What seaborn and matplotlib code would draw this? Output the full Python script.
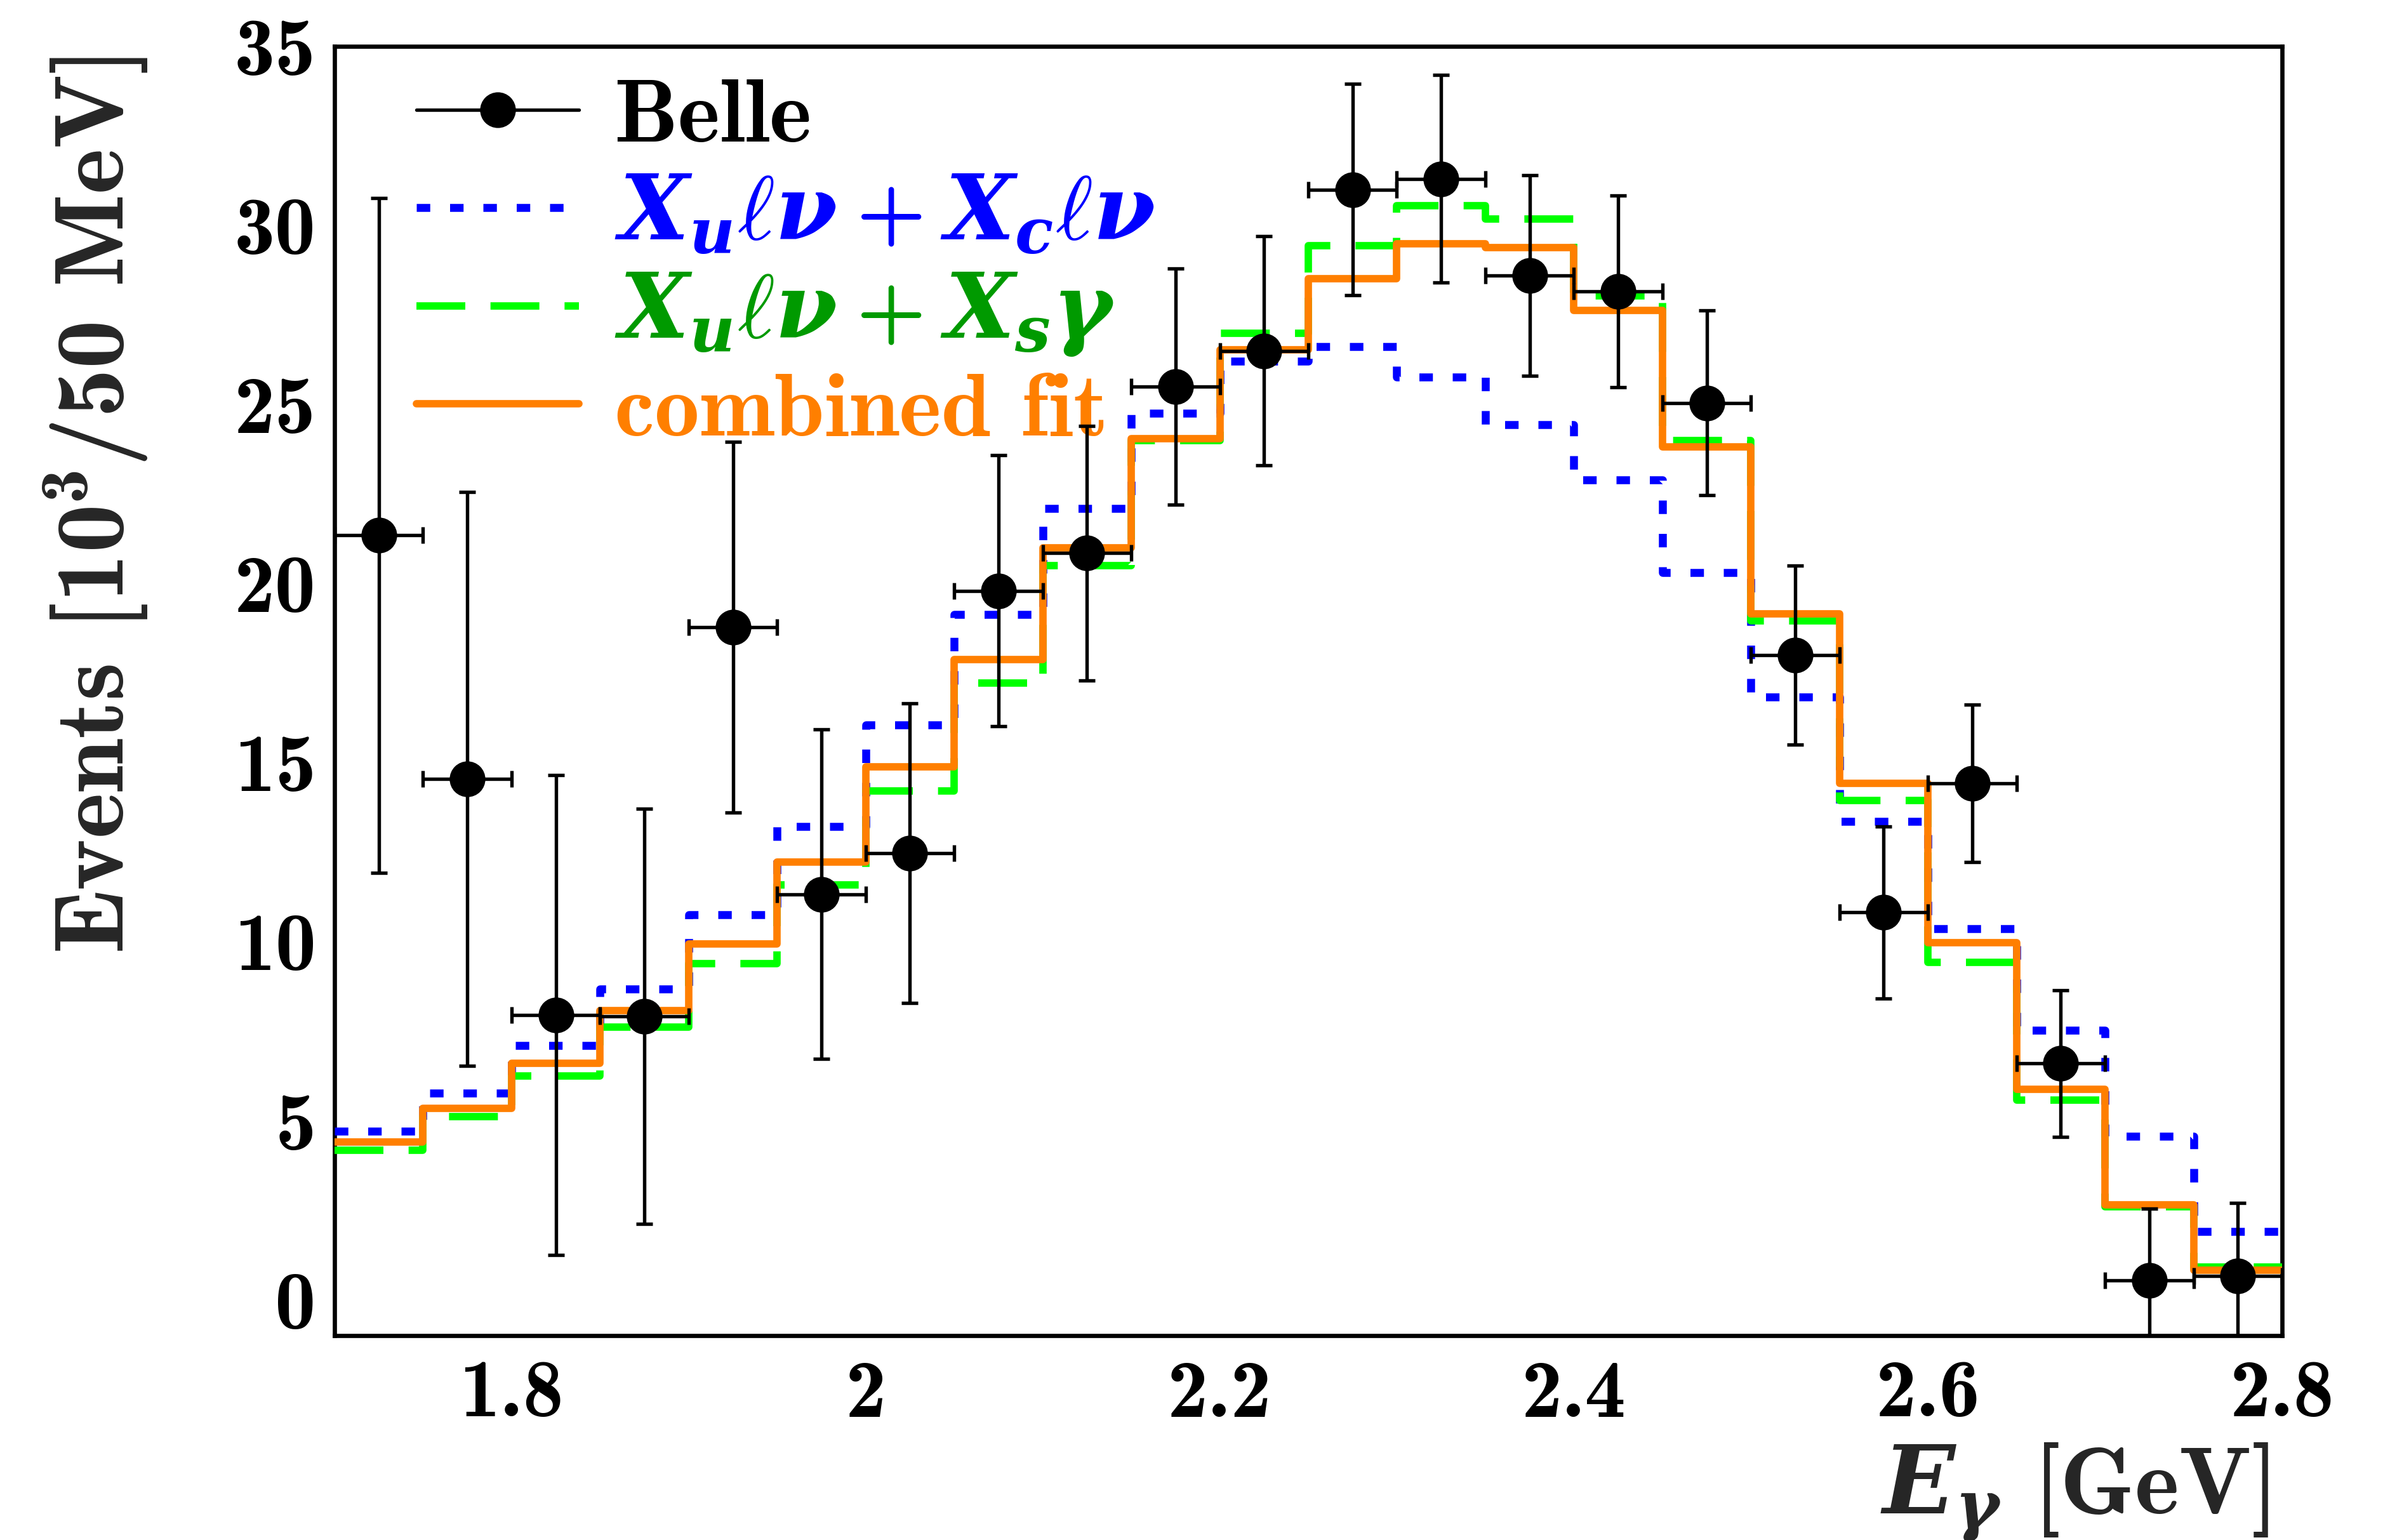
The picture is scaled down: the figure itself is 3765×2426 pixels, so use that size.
import numpy as np
import pandas as pd
import matplotlib
matplotlib.use("Agg")
import matplotlib.pyplot as plt
import seaborn as sns
from matplotlib.lines import Line2D
from matplotlib.ticker import MultipleLocator, FixedLocator, FuncFormatter

# ---------------- data ----------------
bin_edges = [round(1.70 + 0.05 * i, 3) for i in range(23)]
bin_centers = [round(1.725 + 0.05 * i, 4) for i in range(22)]

belle_y = [21.35, 14.55, 7.95, 7.92, 18.78, 11.32, 12.47, 19.80, 20.85, 25.50, 26.50,
           31.00, 31.30, 28.60, 28.16, 25.04, 18.00, 10.82, 14.42, 6.60, 0.54, 0.66]
belle_err = [9.42, 8.01, 6.70, 5.80, 5.17, 4.60, 4.18, 3.78, 3.55, 3.30, 3.20,
             2.95, 2.90, 2.80, 2.68, 2.58, 2.50, 2.40, 2.20, 2.05, 2.00, 2.05]
xu_xc = [4.70, 5.77, 7.10, 8.67, 10.75, 13.21, 16.05, 19.13, 22.09, 24.75, 26.21,
         26.62, 25.77, 24.44, 22.90, 20.31, 16.83, 13.35, 10.37, 7.52, 4.56, 1.90]
xu_xs = [4.18, 5.12, 6.25, 7.62, 9.38, 11.58, 14.20, 17.23, 20.50, 24.00, 26.98,
         29.44, 30.55, 30.18, 28.03, 23.99, 18.95, 13.95, 9.42, 5.57, 2.60, 0.92]
combined = [4.40, 5.35, 6.61, 8.07, 9.93, 12.22, 14.88, 17.88, 21.00, 24.04, 26.52,
            28.51, 29.49, 29.38, 27.62, 23.81, 19.15, 14.42, 9.97, 5.87, 2.65, 0.82]

legend_labels = ["Belle", r"$X_u\ell\nu+X_c\ell\nu$", r"$X_u\ell\nu+X_s\gamma$", "combined fit"]
x_ticks = [1.8, 2.0, 2.2, 2.4, 2.6, 2.8]
y_ticks = [0, 5, 10, 15, 20, 25, 30, 35]

df = pd.DataFrame({"E": bin_centers, "xu_xc": xu_xc, "xu_xs": xu_xs, "combined": combined})

# ---------------- style ----------------
sns.set_style("white")
plt.rcParams["font.family"] = ["cmb10", "DejaVu Serif"]
plt.rcParams["mathtext.fontset"] = "custom"
plt.rcParams["mathtext.rm"] = "cmb10"
plt.rcParams["mathtext.bf"] = "cmb10"
plt.rcParams["mathtext.it"] = "DejaVu Serif:italic:bold"
plt.rcParams["axes.unicode_minus"] = False
plt.rcParams["axes.formatter.use_mathtext"] = False

C_BLUE = "#0000ff"
C_GREEN = "#00ff00"
C_GREEN_TXT = "#009a00"
C_ORANGE = "#ff7f00"

W, H, DPI = 3765, 2426, 300
fig = plt.figure(figsize=(W / DPI, H / DPI), dpi=DPI)
ax = fig.add_axes([527 / W, (H - 2104) / H, (3595 - 527) / W, (2104 - 73) / H])

# histograms
sns.histplot(data=df, x="E", weights="xu_xc", bins=bin_edges, element="step", fill=False,
             color=C_BLUE, linewidth=3.0, linestyle=(0, (1.7, 2.5)), ax=ax, zorder=3)
sns.histplot(data=df, x="E", weights="xu_xs", bins=bin_edges, element="step", fill=False,
             color=C_GREEN, linewidth=2.8, linestyle=(0, (6.6, 3.4)), ax=ax, zorder=4)
sns.histplot(data=df, x="E", weights="combined", bins=bin_edges, element="step", fill=False,
             color=C_ORANGE, linewidth=2.8, linestyle="-", ax=ax, zorder=5)

# data points
ax.errorbar(bin_centers, belle_y, xerr=0.025, yerr=belle_err, fmt="o", color="black",
            ms=12.5, elinewidth=1.3, capsize=3.2, capthick=1.3, zorder=10)

# axes
ax.set_xlim(1.70, 2.80)
ax.set_ylim(-1, 35)
ax.xaxis.set_major_locator(FixedLocator(x_ticks))
ax.xaxis.set_minor_locator(MultipleLocator(0.05))
ax.yaxis.set_major_locator(FixedLocator(y_ticks))
ax.yaxis.set_minor_locator(MultipleLocator(1))
ax.xaxis.set_major_formatter(FuncFormatter(lambda v, p: "%g" % v))
ax.yaxis.set_major_formatter(FuncFormatter(lambda v, p: "%g" % v))

for s in ax.spines.values():
    s.set_linewidth(1.6)
    s.set_color("black")
ax.tick_params(which="both", direction="in", top=False, right=False, width=1.05,
               colors="black", labelsize=31)
ax.tick_params(axis="y", which="major", length=22, pad=7)
ax.tick_params(axis="y", which="minor", length=11)
ax.tick_params(axis="x", which="major", length=13.5, pad=9)
ax.tick_params(axis="x", which="minor", length=6.5)

ax.set_ylabel(r"Events [10$^{3}$/50 MeV]", fontsize=37, loc="top")
ax.yaxis.set_label_coords(-0.095, 0.992)
ax.set_xlabel(r"$E_\gamma$ [GeV]", fontsize=36, loc="right")
ax.xaxis.set_label_coords(0.993, -0.082)

# legend
handles = [
    Line2D([], [], color="black", marker="o", ms=12.5, lw=1.3),
    Line2D([], [], color=C_BLUE, lw=3.0, ls=(0, (1.7, 2.5))),
    Line2D([], [], color=C_GREEN, lw=2.8, ls=(0, (6.6, 3.4))),
    Line2D([], [], color=C_ORANGE, lw=2.8),
]
leg = ax.legend(handles, legend_labels, loc="upper left", bbox_to_anchor=(0.042, 0.975),
                frameon=False, fontsize=34, handlelength=1.81, handletextpad=0.39,
                labelspacing=0.16, borderaxespad=0, borderpad=0)
for t, c in zip(leg.get_texts(), ["black", C_BLUE, C_GREEN_TXT, C_ORANGE]):
    t.set_color(c)

fig.savefig("out.png", dpi=DPI)
